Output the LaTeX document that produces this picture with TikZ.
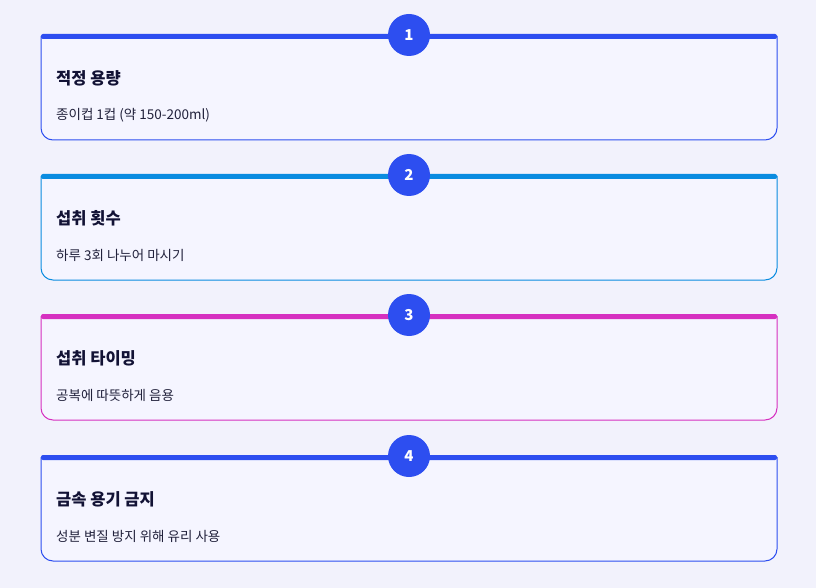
\documentclass[tikz,border=0pt]{standalone}
\usepackage{fontspec}
\setmainfont{Noto Sans CJK KR}
\usepackage{tikz}
\definecolor{pagebg}{HTML}{F2F2FC}
\definecolor{cardbg}{HTML}{F5F5FF}
\definecolor{stepblue}{HTML}{2D4EF0}
\definecolor{skyblue}{HTML}{0A8CE0}
\definecolor{magentaline}{HTML}{D630C0}
\definecolor{inkdark}{HTML}{121235}
\definecolor{inksoft}{HTML}{22223C}

\begin{document}
\begin{tikzpicture}[x=1pt, y=-1pt,
		card/.style={fill=cardbg, line width=1pt, rounded corners=12pt},
		topbar/.style={rounded corners=2pt},
		badge/.style={circle, fill=stepblue, minimum size=42pt, inner sep=0pt, text=white, font=\fontsize{15}{17}\selectfont\bfseries},
		heading/.style={anchor=west, inner sep=0pt, text=inkdark, font=\fontsize{16.5}{19}\selectfont\bfseries},
		detail/.style={anchor=west, inner sep=0pt, text=inksoft, font=\fontsize{13.5}{16}\selectfont}]
		\fill[pagebg] (0,0) rectangle (816,588);
		\useasboundingbox (0,0) rectangle (816,588);
		% step 1
		\draw[card, draw=stepblue] (41,36) -- (41,140) -- (777,140) -- (777,36);
		\fill[topbar, stepblue] (41,34) rectangle (777,39);
		\node[badge] (b1) at (409,35) {1};
		\node[heading] (t1) at (56,78) {적정 용량};
		\node[detail] (d1) at (56,115) {종이컵 1컵 (약 150-200ml)};
		% step 2
		\draw[card, draw=skyblue] (41,176) -- (41,280) -- (777,280) -- (777,176);
		\fill[topbar, skyblue] (41,174) rectangle (777,179);
		\node[badge] (b2) at (409,175) {2};
		\node[heading] (t2) at (56,218) {섭취 횟수};
		\node[detail] (d2) at (56,255) {하루 3회 나누어 마시기};
		% step 3
		\draw[card, draw=magentaline] (41,316) -- (41,420) -- (777,420) -- (777,316);
		\fill[topbar, magentaline] (41,314) rectangle (777,319);
		\node[badge] (b3) at (409,315) {3};
		\node[heading] (t3) at (56,358) {섭취 타이밍};
		\node[detail] (d3) at (56,395) {공복에 따뜻하게 음용};
		% step 4
		\draw[card, draw=stepblue] (41,457) -- (41,561) -- (777,561) -- (777,457);
		\fill[topbar, stepblue] (41,455) rectangle (777,460);
		\node[badge] (b4) at (409,456) {4};
		\node[heading] (t4) at (56,499) {금속 용기 금지};
		\node[detail] (d4) at (56,536) {성분 변질 방지 위해 유리 사용};
	\end{tikzpicture}
\end{document}
